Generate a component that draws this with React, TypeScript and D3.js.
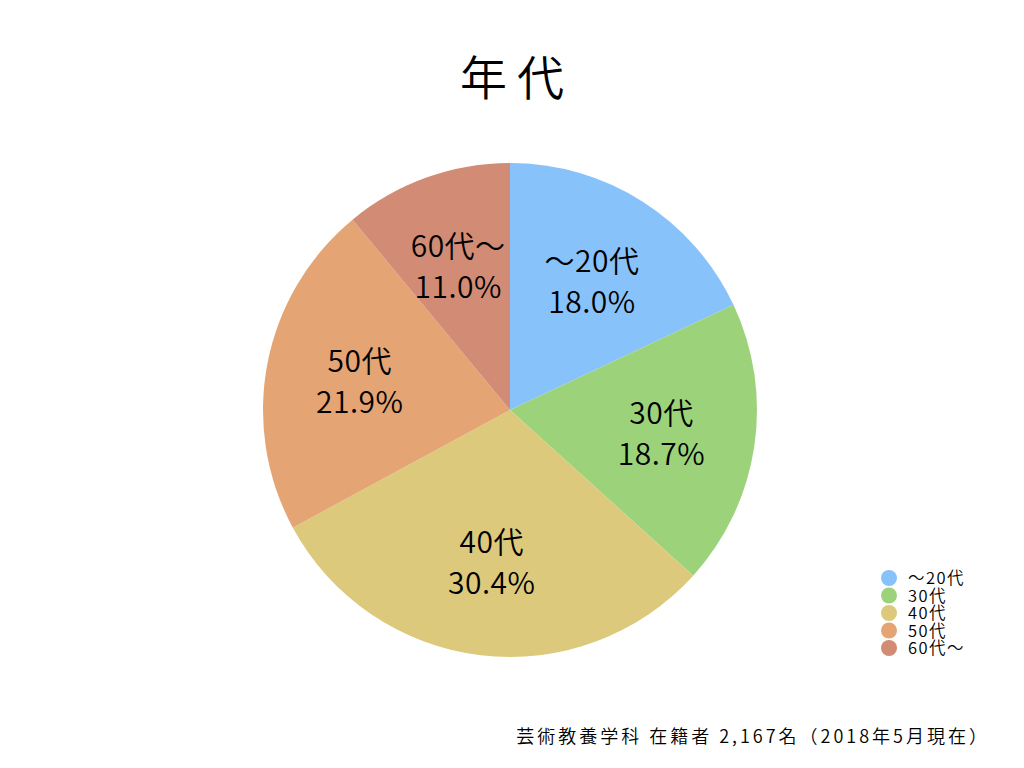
import React from "react";
import * as d3 from "d3";

const categories = ["～20代", "30代", "40代", "50代", "60代～"];
const values = [18.0, 18.7, 30.4, 21.9, 11.0];
const colors = ["#88c2fb", "#9cd37a", "#dcc97c", "#e4a474", "#d28b74"];
const title = "年代";
const footnote = "芸術教養学科 在籍者 2,167名（2018年5月現在）";

const W = 1024;
const H = 768;
const cx = 510;
const cy = 410;
const R = 247;
const FONT = "'Noto Sans CJK JP', 'Noto Sans', sans-serif";

export default function App() {
  const pie = d3.pie<number>().sort(null).value((d) => d);
  const arcs = pie(values);
  const arc = d3.arc<d3.PieArcDatum<number>>().innerRadius(0).outerRadius(R);
  const labelArc = d3
    .arc<d3.PieArcDatum<number>>()
    .innerRadius(R * 0.62)
    .outerRadius(R * 0.62);

  return (
    <svg
      width={W}
      height={H}
      style={{ position: "absolute", left: 0, top: 0, background: "#fff" }}
      fontFamily={FONT}
      fontWeight={350}
    >
      <rect width={W} height={H} fill="#fff" />
      <text x={517} y={95} textAnchor="middle" fontSize={47} fill="#000" letterSpacing={10}>
        {title}
      </text>
      <g transform={`translate(${cx},${cy})`}>
        {arcs.map((a, i) => (
          <path key={i} d={arc(a) || ""} fill={colors[i]} />
        ))}
        {arcs.map((a, i) => {
          const [x, y] = labelArc.centroid(a);
          return (
            <text key={"l" + i} textAnchor="middle" fontSize={30} fill="#000" letterSpacing={0.5}>
              <tspan x={x} y={y - 9}>
                {categories[i]}
              </tspan>
              <tspan x={x} y={y + 32}>
                {values[i].toFixed(1) + "%"}
              </tspan>
            </text>
          );
        })}
      </g>
      <g>
        {categories.map((c, i) => (
          <g key={"lg" + i} transform={`translate(889,${578 + i * 17.5})`}>
            <circle r={8} fill={colors[i]} />
            <text x={19} y={6} fontSize={16.5} fill="#000" letterSpacing={1.5}>
              {c}
            </text>
          </g>
        ))}
      </g>
      <text x={990} y={743} textAnchor="end" fontSize={18} fill="#000" letterSpacing={3}>
        {footnote}
      </text>
    </svg>
  );
}
